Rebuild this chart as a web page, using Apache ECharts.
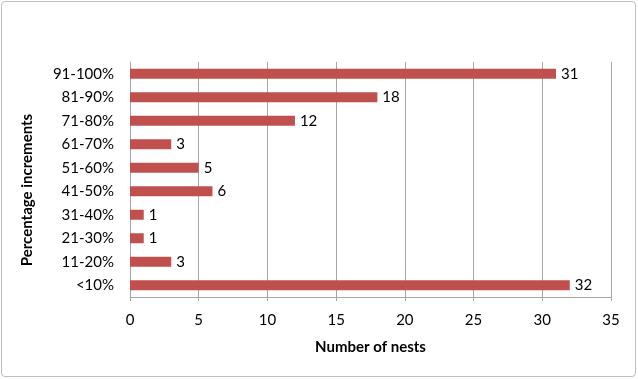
<!DOCTYPE html>
<html><head><meta charset="utf-8">
<script src="https://cdn.jsdelivr.net/npm/echarts@6/dist/echarts.min.js"></script>
<style>html,body{margin:0;padding:0;background:#fff}
#frame{position:absolute;left:1px;top:1px;width:635px;height:376px;border:1px solid #bdbdbd;border-radius:4px;box-sizing:border-box}
#c{position:absolute;left:0;top:0;width:638px;height:379px}</style>
</head><body><div id="frame"></div><div id="c"></div>
<script>
const categories = ['<10%','11-20%','21-30%','31-40%','41-50%','51-60%','61-70%','71-80%','81-90%','91-100%'];
const nests = [32,3,1,1,6,5,3,12,18,31];
const xTicks = [0,5,10,15,20,25,30,35];
const xTitle = 'Number of nests';
const yTitle = 'Percentage increments';
const chart = echarts.init(document.getElementById('c'));
const font = 'Lato, "Open Sans", sans-serif';
chart.setOption({
  animation:false,
  grid:{left:130,right:27,top:62,bottom:82,containLabel:false},
  graphic:[{type:'text',x:27,y:190,rotation:Math.PI/2,
    style:{text:yTitle,fontFamily:font,fontWeight:'bold',fontSize:15,fill:'#000',align:'center',verticalAlign:'middle'}}],
  xAxis:{type:'value',min:xTicks[0],max:xTicks[xTicks.length-1],interval:5,
    name:xTitle,nameLocation:'middle',nameGap:43,
    nameTextStyle:{fontFamily:font,fontWeight:'bold',fontSize:15,color:'#000'},
    axisLine:{show:true,lineStyle:{color:'#a6a6a6'}},
    axisTick:{show:true,length:4,lineStyle:{color:'#a6a6a6'}},
    axisLabel:{fontFamily:font,fontSize:15,color:'#000',margin:16},
    splitLine:{show:true,lineStyle:{color:'#a6a6a6',width:1}}},
  yAxis:{type:'category',data:categories,
    axisLine:{show:true,lineStyle:{color:'#a6a6a6'}},
    axisTick:{show:false},
    axisLabel:{fontFamily:font,fontSize:15,color:'#000',margin:16}},
  series:[{type:'bar',data:nests,barWidth:10,
    itemStyle:{color:'#c0504d'},
    label:{show:true,position:'right',distance:5,fontFamily:font,fontSize:15,color:'#000'}}]
});
</script></body></html>
